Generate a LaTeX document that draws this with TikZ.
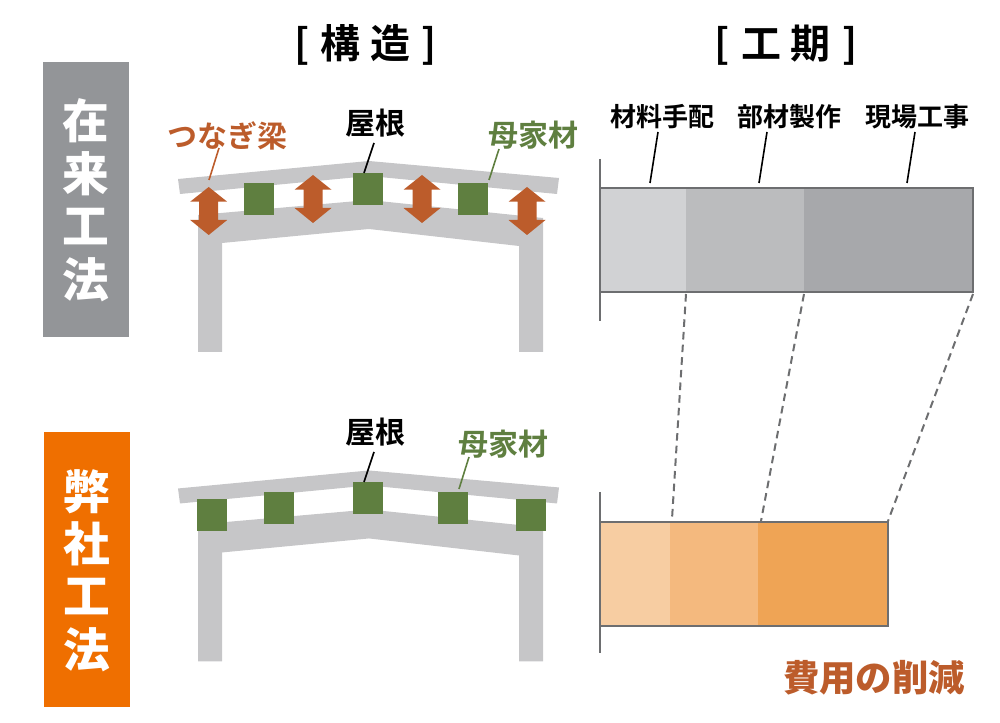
\documentclass[tikz,border=0pt]{standalone}
\usepackage{fontspec}
\setmainfont{Noto Sans CJK JP}[BoldFont={Noto Sans CJK JP Bold}]
\newfontfamily\blackf{Noto Sans CJK JP Black}
\definecolor{beam}{HTML}{C6C6C8}
\definecolor{moss}{HTML}{5F7F40}
\definecolor{rust}{HTML}{BC5C2B}
\definecolor{axisgrey}{HTML}{6D6E70}
\definecolor{tagrey}{HTML}{939598}
\definecolor{tagorange}{HTML}{EF6F00}
\definecolor{graya}{HTML}{D1D2D4}
\definecolor{grayb}{HTML}{BBBCBE}
\definecolor{grayc}{HTML}{A7A8AB}
\definecolor{orga}{HTML}{F7CDA2}
\definecolor{orgb}{HTML}{F4B97E}
\definecolor{orgc}{HTML}{EFA455}
\tikzset{
  beamfill/.style={fill=beam,draw=none},
  purlin/.style={fill=moss,draw=none},
  dblarrow/.style={fill=rust,draw=none},
  lab/.style={inner sep=0pt,font=\fontsize{22.5}{22.5}\selectfont\bfseries},
  plab/.style={inner sep=0pt,text=black,font=\fontsize{19.5}{19.5}\selectfont\bfseries},
  head/.style={inner sep=0pt,font=\fontsize{30}{30}\selectfont\bfseries},
  tag/.style={inner sep=0pt,text=white,font=\fontsize{35}{35}\selectfont\blackf},
  axisline/.style={draw=axisgrey,line width=1.5pt},
  bardash/.style={draw=axisgrey,line width=1.5pt,dash pattern=on 5.7pt off 3.8pt},
  barframe/.style={draw=axisgrey,line width=0.9pt},
  lead/.style={line width=1.2pt},
}
\newcommand{\frameroof}[1]{%
  \begin{scope}[yshift=#1]
    \fill[beamfill] (178,179) -- (368.8,161) -- (368.8,176) -- (180,194) -- cycle;
    \fill[beamfill] (369,161) -- (559,178) -- (557,194) -- (369,176) -- cycle;
    \fill[beamfill] (198,352) -- (198,215) -- (368.8,200) -- (368.8,229) -- (222,243) -- (222,352) -- cycle;
    \fill[beamfill] (369,200) -- (543,218) -- (543,352) -- (519,352) -- (519,246) -- (369,229) -- cycle;
  \end{scope}}
\newcommand{\dbl}[2]{%
  \fill[dblarrow] (#1,#2) -- ++(18.5,14.7) -- ++(-9,0) -- ++(0,18.3) -- ++(9,0)
    -- (#1,#2+48) -- ++(-18.5,-15) -- ++(9,0) -- ++(0,-18.3) -- ++(-9,0) -- cycle;}
\begin{document}
\begin{tikzpicture}[x=0.75pt,y=-0.75pt]
\useasboundingbox (0,0) rectangle (1000,723);
% side tags
\path[fill=tagrey] (43,62) rectangle (129,337);
\path[fill=tagorange] (44,432) rectangle (130,707);
\node[tag] (t1) at (86,121) {在};
\node[tag] (t2) at (86,174) {来};
\node[tag] (t3) at (86,227) {工};
\node[tag] (t4) at (86,280) {法};
\node[tag] (u1) at (87,492) {弊};
\node[tag] (u2) at (87,544) {社};
\node[tag] (u3) at (87,597) {工};
\node[tag] (u4) at (87,650) {法};
% headers
\node[head] (h1) at (365.5,45) {[\hspace{8.5pt}構\hspace{7pt}造\hspace{8.5pt}]};
\node[head] (h2) at (786,45) {[\hspace{8.5pt}工\hspace{7pt}期\hspace{8.5pt}]};
% top frame
\frameroof{0pt}
\fill[purlin] (244,183) rectangle (274,215);
\fill[purlin] (353,173) rectangle (383,205);
\fill[purlin] (458,183) rectangle (488,215);
\dbl{208.7}{187}
\dbl{313}{175}
\dbl{422}{175}
\dbl{527}{187}
\node[lab,text=rust] (lt) at (227,136) {つなぎ梁};
\node[lab,text=black] (lr) at (375,123) {屋根};
\node[lab,text=moss] (lm) at (533,135) {母家材};
\coordinate (a1) at (209,180); \coordinate (a2) at (364,173); \coordinate (a3) at (489,180);
\coordinate (a4) at (219,148); \coordinate (a5) at (374,143); \coordinate (a6) at (499,149);
\draw[lead,rust] (a4) -- (a1);
\draw[lead,black] (a5) -- (a2);
\draw[lead,moss] (a6) -- (a3);
% bottom frame
\frameroof{-232.1pt}
\fill[purlin] (197,499) rectangle (227,531);
\fill[purlin] (264,492) rectangle (294,524);
\fill[purlin] (353,482) rectangle (383,514);
\fill[purlin] (438,492) rectangle (468,524);
\fill[purlin] (516,499) rectangle (546,531);
\node[lab,text=black] (br) at (375,432) {屋根};
\node[lab,text=moss] (bm) at (503,444) {母家材};
\coordinate (b2) at (364,482); \coordinate (b3) at (459,489);
\coordinate (b4) at (374,452); \coordinate (b5) at (469,457);
\draw[lead,black] (b4) -- (b2);
\draw[lead,moss] (b5) -- (b3);
% bars
\fill[graya] (600,188) rectangle (686,292);
\fill[grayb] (686,188) rectangle (804,292);
\fill[grayc] (804,188) rectangle (973,292);
\draw[barframe] (600,188) rectangle (973,292);
\draw[axisline] (600,159) -- (600,321);
\fill[orga] (600,522) rectangle (670,626);
\fill[orgb] (670,522) rectangle (758,626);
\fill[orgc] (758,522) rectangle (888,626);
\draw[barframe] (600,522) rectangle (888,626);
\draw[axisline] (600,492) -- (600,653);
\coordinate (d1) at (686,294); \coordinate (d2) at (804,294); \coordinate (d3) at (973,294);
\coordinate (e1) at (672,519); \coordinate (e2) at (761,521); \coordinate (e3) at (888,521);
\draw[bardash] (d1) -- (e1);
\draw[bardash] (d2) -- (e2);
\draw[bardash] (d3) -- (e3);
\node[plab] (p1) at (662,117) {材料手配};
\node[plab] (p2) at (789,117) {部材製作};
\node[plab] (p3) at (917,117) {現場工事};
\coordinate (q1) at (650,183); \coordinate (q2) at (759,183); \coordinate (q3) at (907,183);
\coordinate (r1) at (658,132); \coordinate (r2) at (767,132); \coordinate (r3) at (915,132);
\draw[lead,black] (r1) -- (q1);
\draw[lead,black] (r2) -- (q2);
\draw[lead,black] (r3) -- (q3);
\node[inner sep=0pt,text=rust,font=\fontsize{27.3}{27.3}\selectfont\blackf] (cut) at (874,678) {費用の削減};
\end{tikzpicture}
\end{document}
